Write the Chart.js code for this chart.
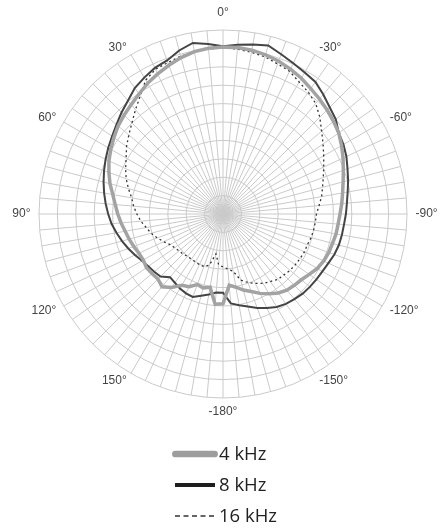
<!DOCTYPE html>
<html>
<head>
<meta charset="utf-8">
<script src="https://cdn.jsdelivr.net/npm/chart.js@4/dist/chart.umd.min.js"></script>
<style>
  body { margin: 0; background: #fff; }
</style>
</head>
<body>
<canvas id="polarChart" width="448" height="528"></canvas>
<script>
// angle of each spoke, clockwise from the top (degrees as printed on the plot)
const angles = [
  0, -5, -10, -15, -20, -25, -30, -35, -40, -45, -50, -55,
  -60, -65, -70, -75, -80, -85, -90, -95, -100, -105, -110, -115,
  -120, -125, -130, -135, -140, -145, -150, -155, -160, -165, -170, -175,
  -180, 175, 170, 165, 160, 155, 150, 145, 140, 135, 130, 125,
  120, 115, 110, 105, 100, 95, 90, 85, 80, 75, 70, 65,
  60, 55, 50, 45, 40, 35, 30, 25, 20, 15, 10, 5
];

// response in dB, one value per spoke
const response4k = [
  -2.3, -2.3, -2.4, -2.6, -2.9, -3.3, -3.7, -4.2, -4.6, -5.0, -5.4, -5.8,
  -6.4, -7.0, -7.6, -8.1, -8.5, -8.8, -9.1, -9.3, -9.4, -9.6, -9.7, -9.9,
  -10.2, -10.7, -11.1, -11.3, -11.5, -11.9, -12.5, -13.1, -13.8, -14.3, -14.9, -15.3,
  -12.8, -12.7, -14.9, -14.6, -14.8, -14.1, -13.8, -12.8, -12.1, -12.5, -12.4, -12.3,
  -12.5, -12.4, -12.1, -11.8, -11.5, -11.1, -10.7, -10.3, -9.8, -9.1, -8.5, -7.9,
  -7.4, -6.9, -6.4, -6.0, -5.6, -5.1, -4.5, -4.0, -3.5, -3.0, -2.6, -2.4
];
const response8k = [
  -2.2, -1.9, -1.6, -1.3, -1.9, -2.4, -2.8, -3.1, -3.8, -4.5, -5.0, -5.8,
  -6.1, -6.5, -7.0, -7.4, -7.8, -8.1, -8.3, -8.5, -8.6, -8.7, -8.9, -9.2,
  -9.4, -9.5, -9.6, -9.7, -9.9, -10.1, -10.4, -10.9, -11.4, -12.0, -12.4, -12.8,
  -14.3, -14.3, -13.9, -13.5, -13.0, -13.1, -13.3, -13.6, -13.8, -13.0, -12.8, -12.6,
  -12.3, -11.8, -11.3, -10.8, -10.3, -9.8, -9.4, -9.0, -8.6, -8.2, -7.8, -7.4,
  -7.0, -6.6, -6.1, -5.5, -4.9, -4.1, -3.6, -3.1, -2.8, -2.0, -1.4, -1.8
];
const response16k = [
  -2.4, -2.5, -2.7, -2.9, -3.3, -3.6, -4.3, -4.8, -5.4, -6.4, -7.5, -8.4,
  -9.2, -9.9, -10.5, -11.0, -11.4, -11.9, -12.3, -12.4, -12.5, -12.6, -12.8, -12.8,
  -12.9, -13.0, -13.1, -13.3, -13.4, -13.8, -14.1, -14.6, -15.1, -15.7, -17.1, -17.5,
  -17.8, -18.1, -19.5, -17.8, -17.4, -17.4, -17.5, -17.5, -17.5, -17.3, -17.2, -17.0,
  -16.7, -16.1, -15.5, -14.9, -14.4, -13.8, -13.3, -12.8, -12.4, -11.7, -11.0, -10.4,
  -9.8, -9.0, -8.3, -7.5, -6.5, -5.4, -4.0, -3.3, -3.1, -2.8, -2.6, -2.5
];

const seriesNames = ['4 kHz', '8 kHz', '16 kHz'];

// legend swatches drawn under the plot, one row per dataset
const legendStyle = [
  { color: '#9d9d9d', width: 6.7, dash: [], cap: 'round', from: 3.4, to: 42.6 },
  { color: '#1e1e1e', width: 4, dash: [], cap: 'butt', from: 3, to: 43 },
  { color: '#333333', width: 1.5, dash: [5, 3.5], cap: 'butt', from: 3, to: 43 }
];

const rowLegend = {
  id: 'rowLegend',
  afterDraw(chart) {
    const ctx = chart.ctx;
    const sets = chart.data.datasets;
    ctx.save();
    ctx.font = '18.5px "Open Sans"';
    ctx.textBaseline = 'middle';
    ctx.fillStyle = '#222';
    const lineLen = 46, gap = 1;
    const widest = Math.max(...sets.map(d => ctx.measureText(d.label).width));
    const left = Math.round((chart.width - (lineLen + gap + widest)) / 2);
    sets.forEach((d, i) => {
      const st = legendStyle[i];
      const y = 454 + i * 31;
      ctx.beginPath();
      ctx.strokeStyle = st.color;
      ctx.lineWidth = st.width;
      ctx.lineCap = st.cap;
      ctx.setLineDash(st.dash);
      ctx.moveTo(left + st.from, y);
      ctx.lineTo(left + st.to, y);
      ctx.stroke();
      ctx.fillText(d.label, left + lineLen + gap, y + 1);
    });
    ctx.restore();
  }
};

// angle captions every 30 degrees, just outside the outer ring;
// side captions hang away from the circle, top and bottom ones are centred
const angleCaptions = {
  id: 'angleCaptions',
  afterDraw(chart) {
    const scale = chart.scales.r;
    const ctx = chart.ctx;
    const half = angles.length / 2;
    ctx.save();
    ctx.font = '12px "Liberation Sans", Arial, sans-serif';
    ctx.fillStyle = '#444';
    ctx.textBaseline = 'middle';
    angles.forEach((a, i) => {
      if (i % 6 !== 0) return;
      let gap = 8.5;
      ctx.textAlign = i < half ? 'left' : 'right';
      if (i === 0) { gap = 17; ctx.textAlign = 'center'; }
      if (i === half) { gap = 13.5; ctx.textAlign = 'center'; }
      const p = scale.getPointPosition(i, scale.drawingArea + gap);
      ctx.fillText(a + '°', p.x, p.y);
    });
    ctx.restore();
  }
};

const ctx = document.getElementById('polarChart').getContext('2d');
const chart = new Chart(ctx, {
  type: 'radar',
  data: {
    labels: angles.map(a => a + '°'),
    datasets: [{
      label: seriesNames[0],
      data: response4k,
      borderColor: '#a3a3a3',
      borderWidth: 3.5
    }, {
      label: seriesNames[1],
      data: response8k,
      borderColor: '#444444',
      borderWidth: 2
    }, {
      label: seriesNames[2],
      data: response16k,
      borderColor: '#333333',
      borderWidth: 1.3,
      borderDash: [2, 3]
    }]
  },
  options: {
    responsive: false,
    animation: false,
    layout: {
      padding: { top: 30, bottom: 130, left: 0, right: 2 }
    },
    elements: {
      line: { tension: 0, fill: false },
      point: { radius: 0, hitRadius: 0 }
    },
    scales: {
      r: {
        min: -25,
        max: 0,
        ticks: { stepSize: 2.5, display: false },
        grid: { circular: true, color: '#cacaca', lineWidth: 1 },
        angleLines: { color: '#cacaca', lineWidth: 1 },
        pointLabels: { display: false }
      }
    },
    plugins: {
      legend: { display: false },
      tooltip: { enabled: false }
    }
  },
  plugins: [angleCaptions, rowLegend]
});
</script>
</body>
</html>
